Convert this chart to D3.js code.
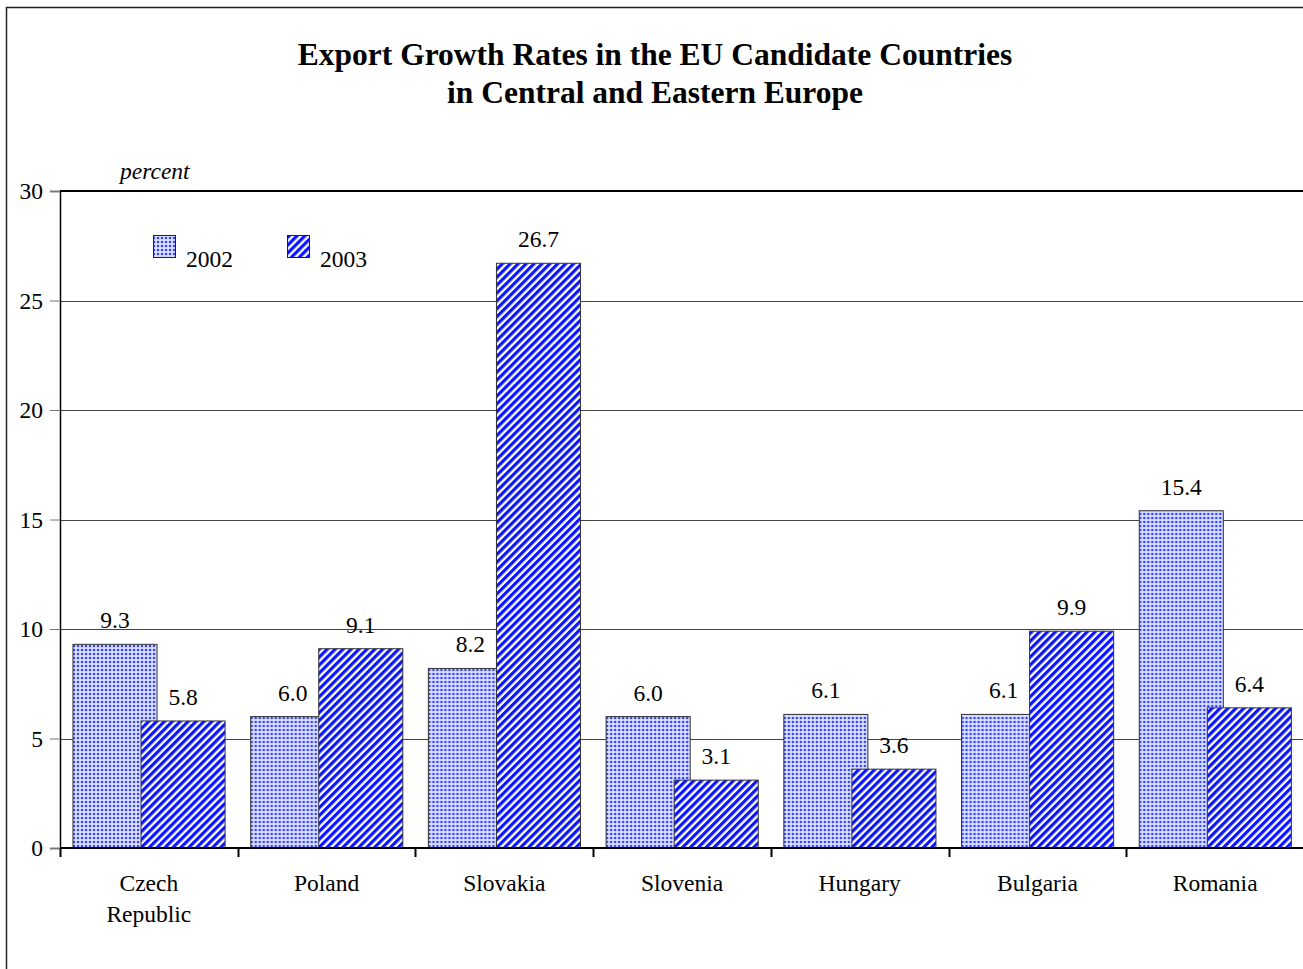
<!DOCTYPE html>
<html>
<head>
<meta charset="utf-8">
<script src="https://cdn.jsdelivr.net/npm/d3@7"></script>
<style>
  html, body { margin: 0; padding: 0; background: #fff; }
  svg { display: block; }
  text { font-family: "Liberation Serif", "Times New Roman", serif; fill: #000; }
</style>
</head>
<body>
<svg id="chart" width="1303" height="969"></svg>
<script>
// Export growth, percent
const countries = ["Czech\nRepublic", "Poland", "Slovakia", "Slovenia", "Hungary", "Bulgaria", "Romania"];
const series = ["2002", "2003"];
const values2002 = [9.3, 6.0, 8.2, 6.0, 6.1, 6.1, 15.4];
const values2003 = [5.8, 9.1, 26.7, 3.1, 3.6, 9.9, 6.4];
const yTicks = [0, 5, 10, 15, 20, 25, 30];
const titleLines = ["Export Growth Rates in the EU Candidate Countries", "in Central and Eastern Europe"];

const svg = d3.select("#chart");
const W = 1303, H = 969;
const plot = { left: 60, right: 1304, top: 191, bottom: 848 };
const FS = 23.5;

// fill patterns
const defs = svg.append("defs");
const dots = defs.append("pattern")
  .attr("id", "pat2002").attr("patternUnits", "userSpaceOnUse")
  .attr("width", 4).attr("height", 4);
dots.append("rect").attr("width", 4).attr("height", 4).attr("fill", "#dfe2ff");
dots.append("circle").attr("cx", 2).attr("cy", 2).attr("r", 1.3).attr("fill", "#3344ff");

const stripes = defs.append("pattern")
  .attr("id", "pat2003").attr("patternUnits", "userSpaceOnUse")
  .attr("width", 5.6).attr("height", 10)
  .attr("patternTransform", "rotate(45)");
stripes.append("rect").attr("width", 5.6).attr("height", 10).attr("fill", "#ffffff");
stripes.append("rect").attr("width", 3.2).attr("height", 10).attr("fill", "#0a14ff");

const fills = { "2002": "url(#pat2002)", "2003": "url(#pat2003)" };

// outer frame
svg.append("rect")
  .attr("x", 6.5).attr("y", 7.5).attr("width", W + 20).attr("height", H + 20)
  .attr("fill", "none").attr("stroke", "#222").attr("stroke-width", 1.5);

// title
svg.append("text")
  .attr("text-anchor", "middle")
  .attr("font-weight", "bold").attr("font-size", 31.5)
  .selectAll("tspan").data(titleLines).join("tspan")
  .attr("x", 655).attr("y", (d, i) => 65 + i * 38)
  .text(d => d);

// scales
const x0 = d3.scaleBand().domain(countries).range([plot.left, plot.right]).padding(0);
const bw = x0.bandwidth();
const barW = bw * 0.473;
const x1 = d3.scaleOrdinal().domain(series).range([bw * 0.073, bw * 0.456]);
const y = d3.scaleLinear().domain([0, 30]).range([plot.bottom, plot.top]);

// gridlines
svg.append("g").selectAll("line").data(yTicks.filter(t => t > 0 && t < 30)).join("line")
  .attr("x1", plot.left).attr("x2", plot.right)
  .attr("y1", d => Math.round(y(d)) + 0.5).attr("y2", d => Math.round(y(d)) + 0.5)
  .attr("stroke", "#444").attr("stroke-width", 1);
svg.append("line")
  .attr("x1", plot.left).attr("x2", plot.right)
  .attr("y1", y(30)).attr("y2", y(30))
  .attr("stroke", "#000").attr("stroke-width", 2);

// y axis
const yAxis = svg.append("g").attr("transform", `translate(${plot.left},0)`)
  .call(d3.axisLeft(y).tickValues(yTicks).tickSize(10).tickPadding(7).tickFormat(d3.format("d")));
yAxis.select(".domain").attr("stroke", "#000").attr("stroke-width", 1.5);
yAxis.selectAll(".tick line").attr("stroke", "#777");
yAxis.selectAll(".tick text").attr("font-size", FS)
  .attr("font-family", "Liberation Serif, Times New Roman, serif").attr("dy", "0.33em");

// "percent" unit label
svg.append("text").attr("x", 120).attr("y", 179)
  .attr("font-style", "italic").attr("font-size", FS).text("percent");

// bars
const data = countries.map((c, i) => ({ country: c, v: { "2002": values2002[i], "2003": values2003[i] } }));
const groups = svg.append("g").selectAll("g").data(data).join("g")
  .attr("transform", d => `translate(${x0(d.country)},0)`);

series.forEach(s => {
  groups.append("rect")
    .attr("x", x1(s)).attr("width", barW)
    .attr("y", d => y(d.v[s])).attr("height", d => y(0) - y(d.v[s]))
    .attr("fill", fills[s]).attr("stroke", "#333").attr("stroke-width", 1);
});
series.forEach(s => {
  groups.append("text")
    .attr("x", x1(s) + barW / 2).attr("y", d => y(d.v[s]) - 16)
    .attr("text-anchor", "middle").attr("font-size", FS)
    .text(d => d.v[s].toFixed(1));
});

// x axis with ticks between categories
const bounds = countries.map(c => x0(c)).concat([plot.right]);
svg.append("line")
  .attr("x1", plot.left).attr("x2", plot.right)
  .attr("y1", plot.bottom).attr("y2", plot.bottom)
  .attr("stroke", "#000").attr("stroke-width", 2);
svg.append("g").selectAll("line").data(bounds).join("line")
  .attr("x1", d => Math.round(d) + 0.5).attr("x2", d => Math.round(d) + 0.5)
  .attr("y1", plot.bottom).attr("y2", plot.bottom + 9)
  .attr("stroke", "#000").attr("stroke-width", 2);

svg.append("g").selectAll("text").data(countries).join("text")
  .attr("text-anchor", "middle").attr("font-size", FS)
  .each(function (c) {
    const lines = c.split("\n");
    d3.select(this).selectAll("tspan").data(lines).join("tspan")
      .attr("x", x0(c) + bw / 2)
      .attr("y", (d, i) => 891 + i * 31)
      .text(d => d);
  });

// legend
const legend = svg.append("g");
const legendItems = [{ s: "2002", x: 153 }, { s: "2003", x: 287 }];
legendItems.forEach(it => {
  legend.append("rect").attr("x", it.x + 0.5).attr("y", 235.5).attr("width", 22).attr("height", 22)
    .attr("fill", fills[it.s]).attr("stroke", "#222").attr("stroke-width", 1);
  legend.append("text").attr("x", it.x + 33).attr("y", 267).attr("font-size", FS).text(it.s);
});
</script>
</body>
</html>
